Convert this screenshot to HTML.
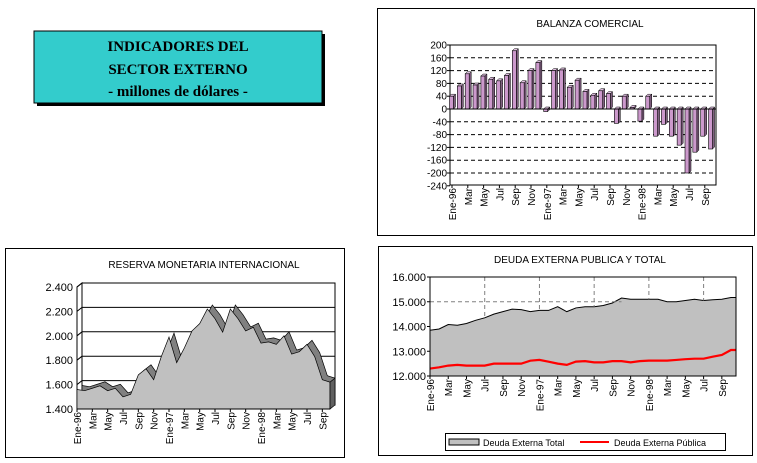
<!DOCTYPE html>
<html><head><meta charset="utf-8"><style>
body{margin:0;background:#fff;}
svg{display:block;font-family:"Liberation Sans",Arial,sans-serif;}
</style></head><body>
<svg id="s" width="757" height="463" viewBox="0 0 757 463" xmlns="http://www.w3.org/2000/svg">
<rect x="0" y="0" width="757" height="463" fill="#fff"/>
<rect x="37" y="34" width="288" height="72" fill="#000"/>
<rect x="34" y="31" width="288" height="72" fill="#33cccc" stroke="#000" stroke-width="1"/>
<g font-family="Liberation Serif,serif" font-size="15" font-weight="bold" text-anchor="middle" fill="#000">
<text x="178" y="51">INDICADORES DEL</text>
<text x="178" y="74">SECTOR EXTERNO</text>
<text x="178" y="96">- millones de dólares -</text>
</g>
<rect x="377.5" y="8.5" width="377" height="227" fill="none" stroke="#000"/>
<rect x="5.5" y="248.5" width="339" height="209" fill="none" stroke="#000"/>
<rect x="378.5" y="246.5" width="374" height="209" fill="none" stroke="#000"/>
<text x="590" y="27" font-size="10" text-anchor="middle">BALANZA COMERCIAL</text>
<text x="204" y="268" font-size="10" text-anchor="middle">RESERVA MONETARIA INTERNACIONAL</text>
<text x="580" y="263" font-size="10" text-anchor="middle">DEUDA EXTERNA PUBLICA Y TOTAL</text>
<g id="g"></g>
</svg>
<script>
var g=document.getElementById('g'),NS='http://www.w3.org/2000/svg';
function el(t,a,txt){var e=document.createElementNS(NS,t);for(var k in a)e.setAttribute(k,a[k]);if(txt!=null)e.textContent=txt;g.appendChild(e);return e;}
var M=['Ene-96','Mar','May','Jul','Sep','Nov','Ene-97','Mar','May','Jul','Sep','Nov','Ene-98','Mar','May','Jul','Sep'];
(function(){
var L=450,R=716,T=45,B=185,y=function(v){return 109-v*0.32;};
el('rect',{x:L,y:T,width:R-L,height:B-T,fill:'#fff',stroke:'#000'});
for(var v=-240;v<=200;v+=40){var yy=y(v);
 if(v!=200&&v!=-240&&v!=0)el('line',{x1:L,x2:R,y1:yy,y2:yy,stroke:'#000','stroke-dasharray':'4,3'});
 el('text',{x:L-3,y:yy+3.5,'font-size':10,'text-anchor':'end'},String(v));
 el('line',{x1:L-3,x2:L,y1:yy,y2:yy,stroke:'#000'});}
var d=[40,72,110,75,103,93,88,105,182,82,120,145,-8,120,122,68,90,55,43,57,48,-45,40,5,-38,40,-85,-48,-85,-113,-200,-135,-85,-125];
for(var i=0;i<d.length;i++){var cx=452+7.85*i,v=d[i],y0=y(0),y1=y(v),top=Math.min(y0,y1),h=Math.abs(y1-y0);
 el('polygon',{points:(cx+1.5)+','+top+' '+(cx+3.5)+','+(top-2)+' '+(cx+3.5)+','+(top-2+h)+' '+(cx+1.5)+','+(top+h),fill:'#806080',stroke:'#000','stroke-width':0.5});
 el('polygon',{points:(cx-2.5)+','+top+' '+(cx-0.5)+','+(top-2)+' '+(cx+3.5)+','+(top-2)+' '+(cx+1.5)+','+top,fill:'#e0c0e0',stroke:'#000','stroke-width':0.5});
 el('rect',{x:cx-2.5,y:top,width:4,height:h,fill:'#cc99cc',stroke:'#000','stroke-width':0.6});}
el('line',{x1:L,x2:R,y1:y(0),y2:y(0),stroke:'#000'});
for(var j=0;j<17;j++){var x=452+15.8*j;el('line',{x1:x,x2:x,y1:B,y2:B+3,stroke:'#000'});
 el('text',{transform:'translate('+(x+4)+','+(B+3)+') rotate(-90)','font-size':10,'text-anchor':'end'},M[j]);}
})();
(function(){
var L=77,R=330,dx=5,dy=-4,y=function(v){return 409-(v-1400)*0.122;};
el('polygon',{points:L+','+y(1400)+' '+(L+dx)+','+(y(1400)+dy)+' '+(L+dx)+','+(y(2400)+dy)+' '+L+','+y(2400),fill:'#fff',stroke:'#000'});
el('rect',{x:L+dx,y:y(2400)+dy,width:R-L,height:y(1400)-y(2400),fill:'#fff',stroke:'#000'});
for(var v=1400;v<=2400;v+=200){var yy=y(v);
 el('line',{x1:L+dx,x2:R+dx,y1:yy+dy,y2:yy+dy,stroke:'#000'});
 el('line',{x1:L,x2:L+dx,y1:yy,y2:yy+dy,stroke:'#000'});
 el('text',{x:L-4,y:yy+4,'font-size':11,'text-anchor':'end'},(v/1000).toFixed(3));}
var d=[1560,1550,1570,1590,1550,1570,1500,1520,1680,1730,1640,1830,1990,1780,1900,2040,2100,2220,2140,2030,2220,2140,2040,2070,1940,1950,1930,2000,1850,1870,1930,1830,1640,1620];
var st=(R-L)/33,p='',pb='';
for(var i=0;i<d.length;i++){p+=(L+st*i)+','+y(d[i])+' ';pb+=(L+st*i+dx)+','+(y(d[i])+dy)+' ';}
el('polygon',{points:pb+(R+dx)+','+(y(1400)+dy)+' '+(L+dx)+','+(y(1400)+dy),fill:'#808080',stroke:'#000','stroke-width':0.7});
el('polygon',{points:p+R+','+y(1400)+' '+L+','+y(1400),fill:'#c0c0c0',stroke:'#000','stroke-width':0.7});
el('polygon',{points:R+','+y(d[33])+' '+(R+dx)+','+(y(d[33])+dy)+' '+(R+dx)+','+(y(1400)+dy)+' '+R+','+y(1400),fill:'#606060',stroke:'#000','stroke-width':0.7});
el('line',{x1:L,x2:R,y1:y(1400),y2:y(1400),stroke:'#000'});
for(var j=0;j<17;j++){var x=L+st*2*j;el('line',{x1:x,x2:x,y1:409,y2:412,stroke:'#000'});
 el('text',{transform:'translate('+(x+4)+','+412+') rotate(-90)','font-size':10,'text-anchor':'end'},M[j]);}
})();
(function(){
var L=430,R=736,T=277,B=376,y=function(v){return B-(v-12000)*0.02475;},st=9.12;
el('rect',{x:L,y:T,width:R-L,height:B-T,fill:'#fff',stroke:'#000'});
var t=[13850,13900,14080,14050,14120,14250,14350,14500,14600,14700,14680,14600,14650,14650,14800,14600,14750,14800,14800,14850,14950,15150,15100,15100,15100,15100,15000,15000,15050,15100,15050,15080,15100,15170];
var r=[12300,12350,12420,12450,12420,12420,12420,12420,12500,12500,12500,12500,12620,12650,12600,12580,12500,12450,12580,12600,12550,12550,12600,12600,12550,12550,12600,12620,12620,12620,12650,12680,12700,12700,12700,12780,12850,13050];
var p='';for(var i=0;i<34;i++)p+=(L+st*i)+','+y(t[i])+' ';
p+=R+','+y(15170)+' ';
el('polygon',{points:p+R+','+B+' '+L+','+B,fill:'#c0c0c0',stroke:'none'});
el('polyline',{points:p,fill:'none',stroke:'#000'});
[6,12,18,24,30].forEach(function(m){var x=L+st*m;el('line',{x1:x,x2:x,y1:T,y2:y(t[m]),stroke:'#808080','stroke-dasharray':'4,3'});});
el('line',{x1:L,x2:L+st*21,y1:y(15000),y2:y(15000),stroke:'#808080','stroke-dasharray':'4,3'});
var q='';for(var i=0;i<34;i++)q+=(L+st*i)+','+y(r[i+Math.round(i*4/34)])+' ';
q+=R+','+y(13050);
el('polyline',{points:q,fill:'none',stroke:'#ff0000','stroke-width':2.2});
el('rect',{x:L,y:T,width:R-L,height:B-T,fill:'none',stroke:'#000'});
for(var v=12000;v<=16000;v+=1000){var yy=y(v);el('line',{x1:L-3,x2:L,y1:yy,y2:yy,stroke:'#000'});
 el('text',{x:L-4,y:yy+4,'font-size':11,'text-anchor':'end'},(v/1000).toFixed(3));}
for(var j=0;j<17;j++){var x=L+st*2*j;el('line',{x1:x,x2:x,y1:B,y2:B+3,stroke:'#000'});
 el('text',{transform:'translate('+(x+4)+','+(B+3)+') rotate(-90)','font-size':10,'text-anchor':'end'},M[j]);}
el('rect',{x:445.5,y:433.5,width:280,height:17,fill:'#fff',stroke:'#000'});
el('rect',{x:449,y:439,width:30,height:6,fill:'#c0c0c0',stroke:'#000'});
el('text',{x:483,y:446,'font-size':9},'Deuda Externa Total');
el('line',{x1:580,x2:609,y1:442,y2:442,stroke:'#ff0000','stroke-width':2});
el('text',{x:614,y:446,'font-size':9},'Deuda Externa Pública');
})();
</script>
</body></html>
